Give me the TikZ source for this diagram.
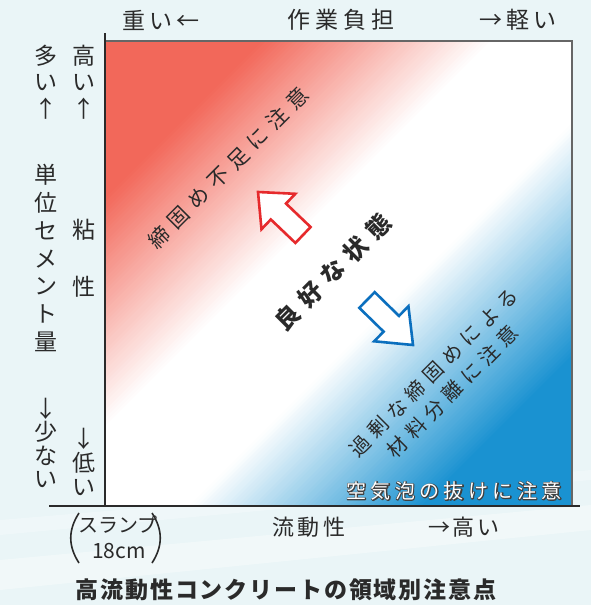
\documentclass[tikz,border=0pt]{standalone}
\usepackage{fontspec}
\setmainfont{Noto Sans CJK JP}
\usetikzlibrary{calc}
\newcommand{\ls}[1]{\addfontfeature{LetterSpace=#1}}
\definecolor{bgc}{HTML}{EAF5F7}
\definecolor{txt}{HTML}{2A2A2A}
\definecolor{rd}{HTML}{F2685A}
\definecolor{bl}{HTML}{1A92D1}
\definecolor{arrred}{HTML}{E62A2C}
\definecolor{arrblue}{HTML}{0B6FBE}
\newcommand{\hollowarrow}[3]{%
  \coordinate (#3T) at #1; \coordinate (#3P) at #2;
  \coordinate (#3H) at ($(#3T)!34pt!(#3P)$);
  \draw[#3arr] ($(#3T)!11pt!90:(#3P)$) -- ($(#3H)!11pt!90:(#3P)$) -- ($(#3H)!24.5pt!90:(#3P)$)
    -- (#3P) -- ($(#3H)!24.5pt!-90:(#3P)$) -- ($(#3H)!11pt!-90:(#3P)$) -- ($(#3T)!11pt!-90:(#3P)$) -- cycle;}
\newcommand{\outlined}[1]{\rlap{\special{pdf:literal direct 1 Tr 1.7 w 1 j 0.25 0.25 0.25 RG}#1\special{pdf:literal direct 0 Tr}}#1}
\begin{document}
\begin{tikzpicture}[x=1pt,y=-1pt,
  every node/.style={inner sep=0pt, text=txt},
  lbl/.style={font=\fontsize{23}{26}\selectfont\ls{18}},
  vlbl/.style={align=center, font=\fontsize{23}{#1}\selectfont},
  diagtxt/.style={rotate=45, align=center, font=\fontsize{21}{27}\selectfont\ls{33}},
  airtxt/.style={font=\fontsize{20}{22}\selectfont\ls{22}},
  axisline/.style={draw=txt, line width=2pt},
  frameline/.style={draw=black!60, line width=1.6pt},
  redarr/.style={draw=arrred, fill=white, line width=2.6pt, line join=miter},
  bluearr/.style={draw=arrblue, fill=white, line width=2.6pt, line join=miter}]
\useasboundingbox (0,0) rectangle (591,605);
\fill[bgc] (0,0) rectangle (591,605);
\fill[white, opacity=0.35] (0,560) -- (591,505) -- (591,530) -- (0,590) -- cycle;
\fill[white, opacity=0.25] (0,520) -- (591,470) -- (591,480) -- (0,535) -- cycle;
% gradient panel
\begin{scope}
\clip (106,41) rectangle (572,506);
\fill[white] (106,41) rectangle (572,506);
\foreach \u in {0,4,...,932} {
  \pgfmathtruncatemacro{\r}{\u<155 ? 100 : (\u<385 ? (385-\u)/230*100 : 0)}
  \pgfmathtruncatemacro{\b}{\u<545 ? 0 : (\u<780 ? (\u-545)/235*100 : 100)}
  \ifnum\r>0 \colorlet{cc}{rd!\r!white}\else\colorlet{cc}{bl!\b!white}\fi
  \fill[cc] (106+\u,41) -- (111+\u,41) -- (111+\u-1000,1041) -- (106+\u-1000,1041) -- cycle;
}
\end{scope}
% frame and axes
\coordinate (tl) at (106,41); \coordinate (tr) at (572,41); \coordinate (br) at (572,506);
\draw[frameline] (tl) -- (tr) -- (br);
\coordinate (ytop) at (105,33); \coordinate (origin) at (105,506);
\coordinate (xstart) at (49,506); \coordinate (xend) at (580,506);
\draw[axisline] (ytop) -- (origin);
\draw[axisline] (xstart) -- (xend);
% top labels
\node[lbl] (heavy) at (161,20) {重い←};
\node[lbl, font=\fontsize{23}{26}\selectfont\ls{21}] (work) at (341,20) {作業負担};
\node[lbl] (light) at (518,20) {→軽い};
% left labels
\node[vlbl=26.5] (many) at (46,82) {多\\い\\↑};
\node[vlbl=26.5] (high) at (84,82) {高\\い\\↑};
\node[vlbl=27.8] (cement) at (46,258) {単\\位\\セ\\メ\\ン\\ト\\量};
\node[vlbl=57] (visc) at (84,258) {粘\\性};
\node[vlbl=23.5] (few) at (46,443) {↓\\少\\な\\い};
\node[vlbl=24] (low) at (84,462) {↓\\低\\い};
% bottom labels
\node[font=\fontsize{20}{24}\selectfont] (slump) at (118,525) {スランプ};
\node[font=\fontsize{21}{24}\selectfont] (cm) at (119,551) {18cm};
\coordinate (lp1) at (79,513); \coordinate (lp2) at (79,563);
\coordinate (rp1) at (152,513); \coordinate (rp2) at (152,563);
\draw[txt, line width=1.6pt] (lp1) .. controls (68,530) and (68,546) .. (lp2);
\draw[txt, line width=1.6pt] (rp1) .. controls (163,530) and (163,546) .. (rp2);
\node[lbl, font=\fontsize{22}{26}\selectfont\ls{15}] (flow) at (309,527) {流動性};
\node[lbl, font=\fontsize{22}{26}\selectfont\ls{12}] (hi2) at (464,527) {→高い};
\node[font=\fontsize{23}{26}\selectfont\bfseries\ls{8}] (title) at (286,590) {高流動性コンクリートの領域別注意点};
% inside texts
\node[diagtxt] (lack) at (228,168) {締固め不足に注意};
\node[diagtxt, font=\fontsize{24}{27}\selectfont\bfseries\ls{34}] (good) at (333,272) {良好な状態};
\node[diagtxt, font=\fontsize{20}{27}\selectfont\ls{30}] (over) at (443,382) {過剰な締固めによる\\材料分離に注意};
\node[airtxt, text=white] (air) at (454,491) {\outlined{空気泡の抜けに注意}};
% arrows
\hollowarrow{(303,235)}{(258,192)}{red}
\hollowarrow{(367,300)}{(413,345)}{blue}
\end{tikzpicture}
\end{document}
